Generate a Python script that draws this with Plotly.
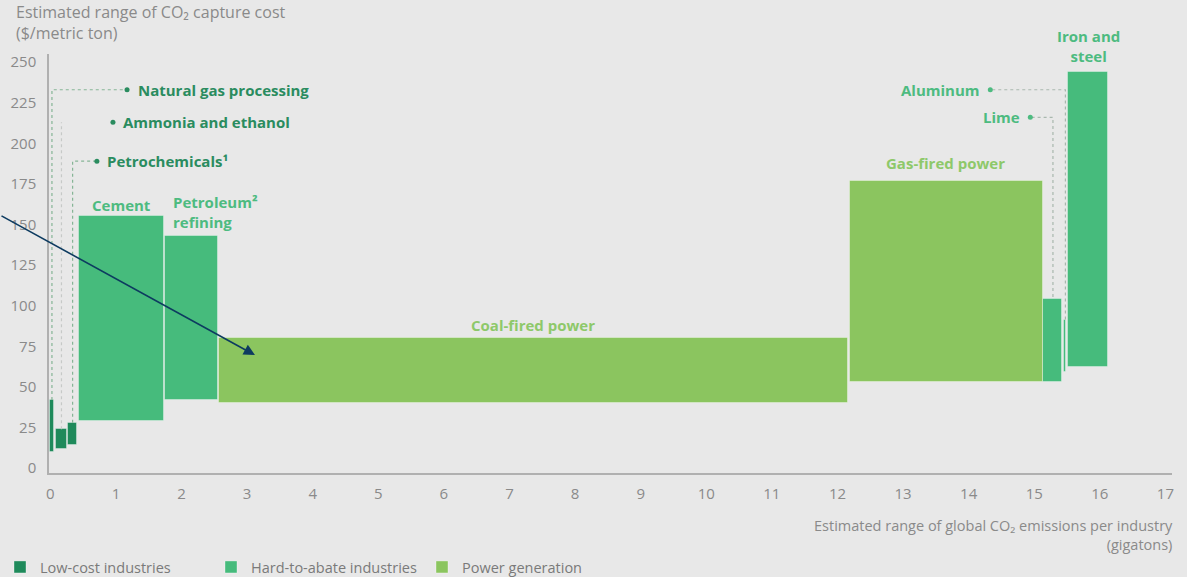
import plotly.graph_objects as go

# ---------------- data ----------------
# each industry: emissions range start/end (gigatons), capture cost low/high ($/t)
low_names = ["Natural gas processing", "Ammonia and ethanol", "Petrochemicals"]
low_x0 = [0.00, 0.08, 0.27]
low_x1 = [0.05, 0.26, 0.41]
low_lo = [10, 12, 14]
low_hi = [42, 24, 28]

hard_names = ["Cement", "Petroleum refining", "Lime", "Aluminum", "Iron and steel"]
hard_x0 = [0.44, 1.75, 15.14, 15.46, 15.52]
hard_x1 = [1.73, 2.56, 15.43, 15.49, 16.12]
hard_lo = [29, 42, 53, 59, 62]
hard_hi = [155, 143, 104, 91, 244]

power_names = ["Coal-fired power", "Gas-fired power"]
power_x0 = [2.57, 12.19]
power_x1 = [12.16, 15.13]
power_lo = [40, 53]
power_hi = [80, 177]

x_ticks = list(range(0, 18))
y_ticks = list(range(0, 251, 25))

C_LOW = "#1f8a5b"
C_HARD = "#46bb7c"
C_POW = "#8bc55f"
T_LOW = "#2a8c5f"
T_HARD = "#4dbb80"
T_POW = "#8ec86a"
GRAY = "#8a8a8a"
BG = "#e8e8e8"
FONT = "Open Sans"


def bar_trace(name, x0, x1, lo, hi, color):
    return go.Bar(
        name=name,
        x=[(a + b) / 2 for a, b in zip(x0, x1)],
        width=[b - a for a, b in zip(x0, x1)],
        base=lo,
        y=[h - l for h, l in zip(hi, lo)],
        marker=dict(color=color, line=dict(color="rgba(255,255,255,0.35)", width=1)),
        hoverinfo="skip",
    )


fig = go.Figure()
fig.add_trace(bar_trace("Low-cost industries", low_x0, low_x1, low_lo, low_hi, C_LOW))
fig.add_trace(bar_trace("Hard-to-abate industries", hard_x0, hard_x1, hard_lo, hard_hi, C_HARD))
fig.add_trace(bar_trace("Power generation", power_x0, power_x1, power_lo, power_hi, C_POW))

# leader lines (dotted) from bar tops to labels
def leader(xs, ys, color):
    fig.add_trace(go.Scatter(x=xs, y=ys, mode="lines", showlegend=False, hoverinfo="skip",
                             line=dict(color=color, width=1.2, dash="dot")))

ng_c = (low_x0[0] + low_x1[0]) / 2
am_c = (low_x0[1] + low_x1[1]) / 2
pc_c = (low_x0[2] + low_x1[2]) / 2
li_c = (hard_x0[2] + hard_x1[2]) / 2
al_c = (hard_x0[3] + hard_x1[3]) / 2
is_c = (hard_x0[4] + hard_x1[4]) / 2

leader([ng_c, ng_c, 1.15], [low_hi[0], 233, 233], "#86b596")
leader([am_c, am_c], [low_hi[1], 213], "#c6c9c7")
leader([pc_c, pc_c, 0.70], [low_hi[2], 189, 189], "#86b596")
leader([14.36, al_c, al_c], [233, 233, hard_hi[3]], "#a9b8ae")
leader([14.96, li_c, li_c], [216, 216, hard_hi[2]], "#a9b8ae")

# label dots
fig.add_trace(go.Scatter(x=[1.17, 0.955, 0.71], y=[233, 213, 189], mode="markers",
                         marker=dict(color=T_LOW, size=5), showlegend=False, hoverinfo="skip"))
fig.add_trace(go.Scatter(x=[14.33, 14.94], y=[233, 216], mode="markers",
                         marker=dict(color=T_HARD, size=5), showlegend=False, hoverinfo="skip"))

ann = []
def lab(text, x, y, color, xanchor="left", align="left", yanchor="middle", yshift=0):
    ann.append(dict(text="<b>" + text + "</b>", x=x, y=y, xref="x", yref="y", showarrow=False,
                    xanchor=xanchor, yanchor=yanchor, align=align, yshift=yshift,
                    font=dict(family=FONT, size=15, color=color)))

lab("Natural gas processing", 1.30, 233, T_LOW)
lab("Ammonia and ethanol", 1.07, 213, T_LOW)
lab("Petrochemicals¹", 0.83, 189, T_LOW)
lab("Cement", 1.08, 162, T_HARD, xanchor="center", align="center")
lab("Petroleum²<br>refining", 1.84, 158, T_HARD)
lab("Coal-fired power", 7.36, 88, T_POW, xanchor="center", align="center")
lab("Gas-fired power", 13.65, 188, T_POW, xanchor="center", align="center")
lab("Aluminum", 14.2, 233, T_HARD, xanchor="right", align="right")
lab("Lime", 14.81, 216, T_HARD, xanchor="right", align="right")
lab("Iron and<br>steel", is_c, hard_hi[4], T_HARD, xanchor="center", align="center",
    yanchor="bottom", yshift=4)

# axis titles
ann.append(dict(text="Estimated range of CO₂ capture cost<br>($/metric ton)", xref="paper", yref="paper",
                x=-0.031, y=1.132, xanchor="left", yanchor="top", align="left", showarrow=False,
                font=dict(family=FONT, size=16, color=GRAY)))
ann.append(dict(text="Estimated range of global CO₂ emissions per industry<br>(gigatons)", xref="paper",
                yref="paper", x=1.0, y=-0.098, xanchor="right", yanchor="top", align="right",
                xshift=3, showarrow=False, font=dict(family=FONT, size=14.5, color=GRAY)))

# overlay arrow
ann.append(dict(x=3.12, y=69.6, xref="x", yref="y", ax=-255, ay=-140, showarrow=True,
                arrowhead=2, arrowsize=1.4, arrowwidth=1.6, arrowcolor="#0d3b60", text=""))

fig.update_layout(
    width=1187, height=577,
    margin=dict(l=49, r=15, t=54, b=104, autoexpand=False),
    paper_bgcolor=BG, plot_bgcolor=BG,
    barmode="overlay",
    bargap=0,
    annotations=ann,
    font=dict(family=FONT, color=GRAY, size=14),
    legend=dict(orientation="h", x=0.0, xref="container", xanchor="left",
                y=0.045, yref="container", yanchor="top",
                font=dict(family=FONT, size=14.5, color="#7a7a7a"), bgcolor="rgba(0,0,0,0)",
                traceorder="normal", entrywidth=166, entrywidthmode="pixels"),
    xaxis=dict(range=[-0.02, 17.1], tickvals=x_ticks, showgrid=False, zeroline=False,
               showline=True, linecolor="#b0b0b0", linewidth=1.5, ticks="", automargin=False,
               ticklabelstandoff=6, tickfont=dict(family=FONT, size=15, color=GRAY)),
    yaxis=dict(range=[-3, 255], tickvals=y_ticks, showgrid=False, zeroline=False,
               showline=True, linecolor="#b0b0b0", linewidth=1.5, ticks="", automargin=False,
               ticklabelstandoff=8, tickfont=dict(family=FONT, size=15, color=GRAY)),
)

fig.write_html("out.html", config={"displayModeBar": False},
               post_script="document.body.style.margin='0';document.body.style.overflow='hidden';")
